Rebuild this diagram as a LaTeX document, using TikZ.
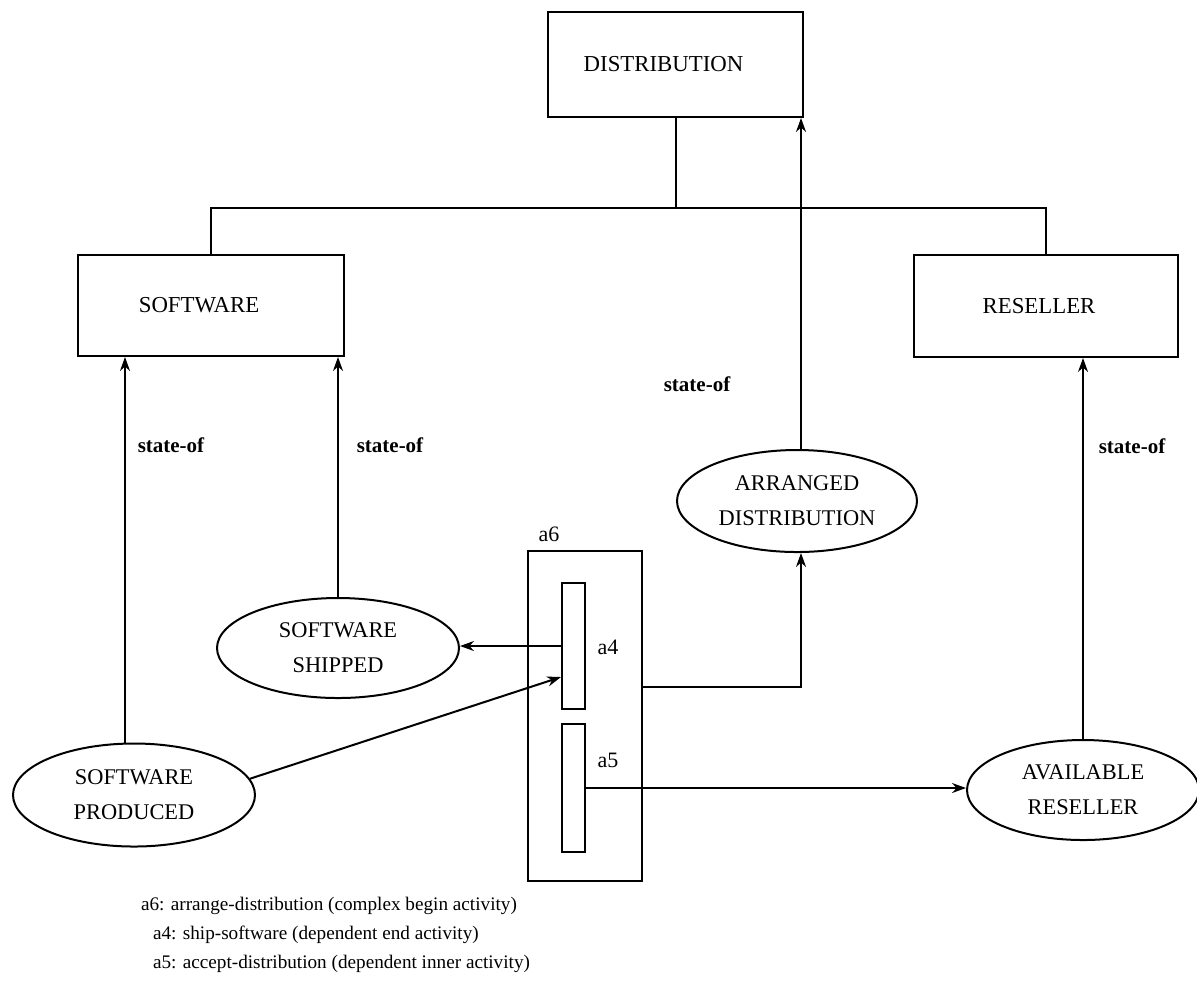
\documentclass[tikz,border=0pt]{standalone}
\usepackage{fontspec}
\setmainfont{Liberation Serif}
\usetikzlibrary{shapes.geometric,arrows.meta}
\begin{document}
\begin{tikzpicture}[x=0.5pt,y=-0.5pt,
  line width=1pt,
  box/.style={draw,rectangle,inner sep=0pt,font=\fontsize{11.4}{13}\selectfont},
  ell/.style={draw,ellipse,inner sep=0pt,align=center,font=\fontsize{11.2}{17.5}\selectfont},
  act/.style={draw,rectangle,inner sep=0pt},
  arr/.style={-{Stealth[length=7pt,width=5pt]}},
  lbl/.style={font=\bfseries\fontsize{10.5}{12}\selectfont,inner sep=0pt},
  albl/.style={font=\fontsize{11}{13}\selectfont,inner sep=0pt},
  leg/.style={font=\fontsize{9.6}{11}\selectfont,inner sep=0pt,anchor=west}]
\useasboundingbox (0,0) rectangle (1197,998);
% boxes
\node[box,minimum width=127.5pt,minimum height=52.5pt] (dist) at (675.5,64.5) {DISTRIBUTION\hspace*{12pt}};
\node[box,minimum width=133pt,minimum height=50.5pt] (sw) at (211,305.5) {SOFTWARE\hspace*{12pt}};
\node[box,minimum width=132pt,minimum height=51pt] (res) at (1046,306) {RESELLER\hspace*{7pt}};
% ellipses
\node[ell,minimum width=120pt,minimum height=51pt] (arr) at (797,501) {ARRANGED\\DISTRIBUTION};
\node[ell,minimum width=121pt,minimum height=50pt] (ss) at (338,648) {SOFTWARE\\SHIPPED};
\node[ell,minimum width=121pt,minimum height=51.5pt] (sp) at (134,795) {SOFTWARE\\PRODUCED};
\node[ell,minimum width=116pt,minimum height=50pt] (av) at (1083,790) {AVAILABLE\\RESELLER};
% activities
\node[act,minimum width=57pt,minimum height=165pt] (a6) at (585,716) {};
\node[act,minimum width=11.5pt,minimum height=63pt] (a4) at (573.5,646) {};
\node[act,minimum width=11.5pt,minimum height=64pt] (a5) at (573.5,788) {};
\node[albl] (la6) at (549,534) {a6};
\node[albl] (la4) at (608,647) {a4};
\node[albl] (la5) at (608,760) {a5};
% tree
\coordinate (bus) at (0,208);
\draw (dist.south) -- (dist.south |- bus);
\draw (sw.north) |- (bus -| res.north) -- (res.north);
% state-of arrows
\draw[arr] ([xshift=-4.5pt]sp.north) -- ([xshift=-4.5pt]sp.north |- sw.south);
\draw[arr] (ss.north) -- (ss.north |- sw.south);
\draw[arr] ([xshift=2pt]arr.north) -- ([xshift=2pt]arr.north |- dist.south);
\draw[arr] (av.north) -- (av.north |- res.south);
\node[lbl] (s1) at (171,445) {state-of};
\node[lbl] (s2) at (390,445) {state-of};
\node[lbl] (s3) at (697,384) {state-of};
\node[lbl] (s4) at (1132,446) {state-of};
% activity connectors
\draw[arr] (a4.west) -- (a4.west -| ss.east);
\draw[arr] (sp.8) -- ([yshift=-15.5pt]a4.west);
\draw[arr] (a5.east) -- (a5.east -| av.west);
\draw[arr] ([yshift=14.5pt]a6.east) -| ([xshift=2pt]arr.south);
% legend
\node[leg] (l1) at (140,906) {a6: arrange-distribution (complex begin activity)};
\node[leg] (l2) at (152,935) {a4: ship-software (dependent end activity)};
\node[leg] (l3) at (152,964) {a5: accept-distribution (dependent inner activity)};
\end{tikzpicture}
\end{document}
